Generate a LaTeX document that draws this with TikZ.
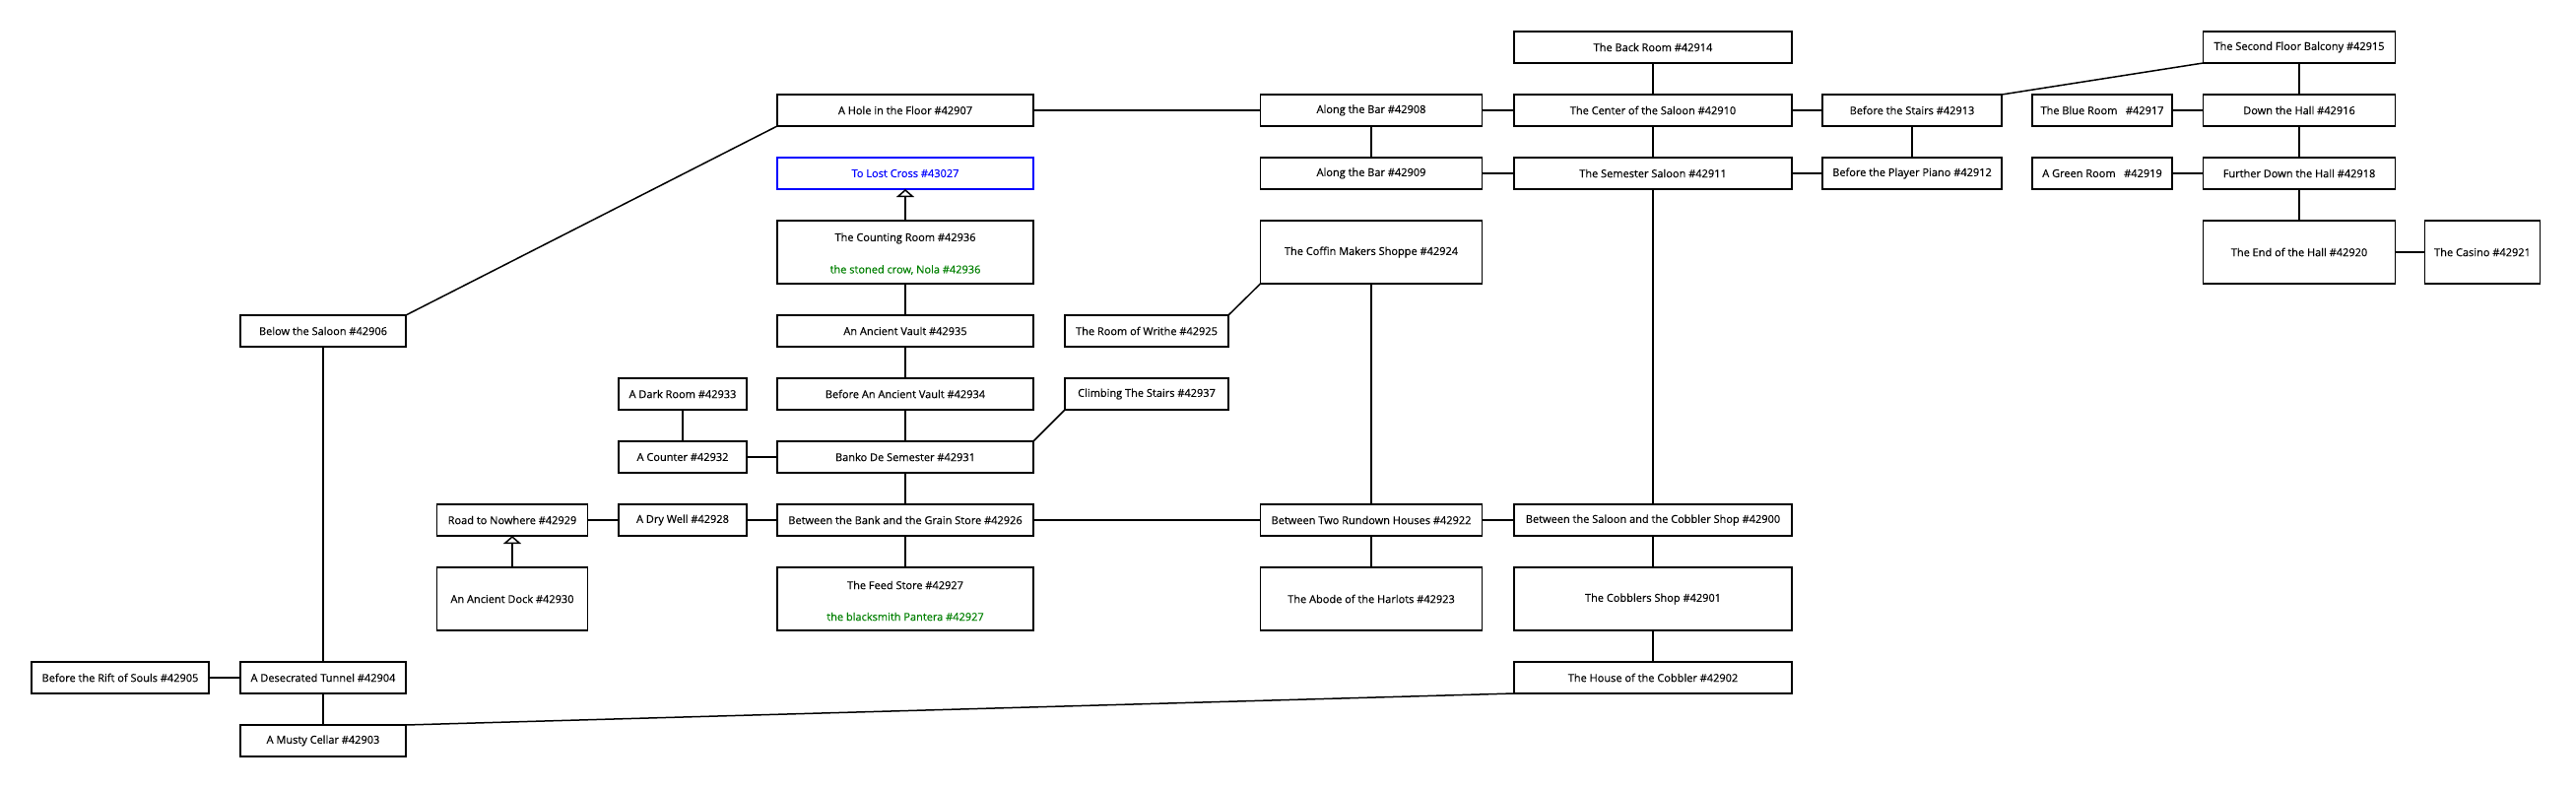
\documentclass[tikz,border=0pt]{standalone}
\usepackage{fontspec}
\setmainfont{Open Sans}[FakeBold=0.3]
\usetikzlibrary{arrows.meta}
\definecolor{linkblue}{RGB}{0,0,255}
\definecolor{npcgreen}{RGB}{0,128,0}
\newcommand\roomnode[6]{\node[room, minimum width=#4pt, minimum height=#5pt] (#1) at (#2,#3) {#6};}
\begin{document}
\begin{tikzpicture}[x=1pt,y=-1pt,
  room/.style={draw=black, line width=1.5pt, rectangle, inner sep=0pt, outer sep=0pt, fill=white, font=\fontsize{11}{13}\selectfont},
  exitroom/.style={room, draw=linkblue, text=linkblue},
  txt/.style={inner sep=0pt, outer sep=0pt, font=\fontsize{11}{13}\selectfont},
  npc/.style={txt, text=npcgreen},
  link/.style={line width=1.5pt, draw=black},
  uplink/.style={link, -{Triangle[open, width=18pt, length=8pt]}}
]
\useasboundingbox (0,0) rectangle (2615,800);
% row 0
\roomnode{r42914}{1678}{48}{282}{32}{The Back Room \#42914}
\roomnode{r42915}{2334}{48}{195}{32}{The Second Floor Balcony \#42915}
% row 1
\roomnode{r42907}{919}{112}{260}{32}{A Hole in the Floor \#42907}
\roomnode{r42908}{1392}{112}{225}{32}{Along the Bar \#42908}
\roomnode{r42910}{1678}{112}{282}{32}{The Center of the Saloon \#42910}
\roomnode{r42913}{1941}{112}{182}{32}{Before the Stairs \#42913}
\roomnode{r42917}{2134}{112}{142}{32}{The Blue Room \ \ \#42917}
\roomnode{r42916}{2334}{112}{195}{32}{Down the Hall \#42916}
% row 2
\node[exitroom, minimum width=260pt, minimum height=32pt] (r43027) at (919,176) {To Lost Cross \#43027};
\roomnode{r42909}{1392}{176}{225}{32}{Along the Bar \#42909}
\roomnode{r42911}{1678}{176}{282}{32}{The Semester Saloon \#42911}
\roomnode{r42912}{1941}{176}{182}{32}{Before the Player Piano \#42912}
\roomnode{r42919}{2134}{176}{142}{32}{A Green Room \ \ \#42919}
\roomnode{r42918}{2334}{176}{195}{32}{Further Down the Hall \#42918}
% row 3
\roomnode{r42936}{919}{256}{260}{64}{}
\node[txt] (t42936a) at (919,242) {The Counting Room \#42936};
\node[npc] (t42936b) at (919,274) {the stoned crow, Nola \#42936};
\roomnode{r42924}{1392}{256}{225}{64}{The Coffin Makers Shoppe \#42924}
\roomnode{r42920}{2334}{256}{195}{64}{The End of the Hall \#42920}
\roomnode{r42921}{2520}{256}{117}{64}{The Casino \#42921}
% row 4
\roomnode{r42906}{328}{336}{168}{32}{Below the Saloon \#42906}
\roomnode{r42935}{919}{336}{260}{32}{An Ancient Vault \#42935}
\roomnode{r42925}{1164}{336}{166}{32}{The Room of Writhe \#42925}
% row 5
\roomnode{r42933}{693}{400}{130}{32}{A Dark Room \#42933}
\roomnode{r42934}{919}{400}{260}{32}{Before An Ancient Vault \#42934}
\roomnode{r42937}{1164}{400}{166}{32}{Climbing The Stairs \#42937}
% row 6
\roomnode{r42932}{693}{464}{130}{32}{A Counter \#42932}
\roomnode{r42931}{919}{464}{260}{32}{Banko De Semester \#42931}
% row 7
\roomnode{r42929}{520}{528}{153}{32}{Road to Nowhere \#42929}
\roomnode{r42928}{693}{528}{130}{32}{A Dry Well \#42928}
\roomnode{r42926}{919}{528}{260}{32}{Between the Bank and the Grain Store \#42926}
\roomnode{r42922}{1392}{528}{225}{32}{Between Two Rundown Houses \#42922}
\roomnode{r42900}{1678}{528}{282}{32}{Between the Saloon and the Cobbler Shop \#42900}
% row 8
\roomnode{r42930}{520}{608}{153}{64}{An Ancient Dock \#42930}
\roomnode{r42927}{919}{608}{260}{64}{}
\node[txt] (t42927a) at (919,594) {The Feed Store \#42927};
\node[npc] (t42927b) at (919,626) {the blacksmith Pantera \#42927};
\roomnode{r42923}{1392}{608}{225}{64}{The Abode of the Harlots \#42923}
\roomnode{r42901}{1678}{608}{282}{64}{The Cobblers Shop \#42901}
% row 9
\roomnode{r42905}{122}{688}{180}{32}{Before the Rift of Souls \#42905}
\roomnode{r42904}{328}{688}{168}{32}{A Desecrated Tunnel \#42904}
\roomnode{r42902}{1678}{688}{282}{32}{The House of the Cobbler \#42902}
% row 10
\roomnode{r42903}{328}{752}{168}{32}{A Musty Cellar \#42903}
% connectors
\draw[link] (r42906.north east) -- (r42907.south west);
\draw[link] (r42907.east) -- (r42908.west);
\draw[link] (r42908.east) -- (r42910.west);
\draw[link] (r42908.south) -- (r42909.north);
\draw[link] (r42909.east) -- (r42911.west);
\draw[link] (r42914.south) -- (r42910.north);
\draw[link] (r42910.south) -- (r42911.north);
\draw[link] (r42910.east) -- (r42913.west);
\draw[link] (r42911.east) -- (r42912.west);
\draw[link] (r42913.south) -- (r42912.north);
\draw[link] (r42913.north east) -- (r42915.south west);
\draw[link] (r42915.south) -- (r42916.north);
\draw[link] (r42917.east) -- (r42916.west);
\draw[link] (r42916.south) -- (r42918.north);
\draw[link] (r42919.east) -- (r42918.west);
\draw[link] (r42918.south) -- (r42920.north);
\draw[link] (r42920.east) -- (r42921.west);
\draw[link] (r42911.south) -- (r42900.north);
\draw[link] (r42924.south) -- (r42922.north);
\draw[link] (r42925.north east) -- (r42924.south west);
\draw[uplink] (r42936.north) -- (r43027.south);
\draw[link] (r42936.south) -- (r42935.north);
\draw[link] (r42935.south) -- (r42934.north);
\draw[link] (r42934.south) -- (r42931.north);
\draw[link] (r42933.south) -- (r42932.north);
\draw[link] (r42932.east) -- (r42931.west);
\draw[link] (r42931.north east) -- (r42937.south west);
\draw[link] (r42931.south) -- (r42926.north);
\draw[link] (r42928.east) -- (r42926.west);
\draw[link] (r42929.east) -- (r42928.west);
\draw[uplink] (r42930.north) -- (r42929.south);
\draw[link] (r42926.east) -- (r42922.west);
\draw[link] (r42922.east) -- (r42900.west);
\draw[link] (r42926.south) -- (r42927.north);
\draw[link] (r42922.south) -- (r42923.north);
\draw[link] (r42900.south) -- (r42901.north);
\draw[link] (r42901.south) -- (r42902.north);
\draw[link] (r42902.south west) -- (r42903.north east);
\draw[link] (r42906.south) -- (r42904.north);
\draw[link] (r42904.south) -- (r42903.north);
\draw[link] (r42905.east) -- (r42904.west);
\end{tikzpicture}
\end{document}
